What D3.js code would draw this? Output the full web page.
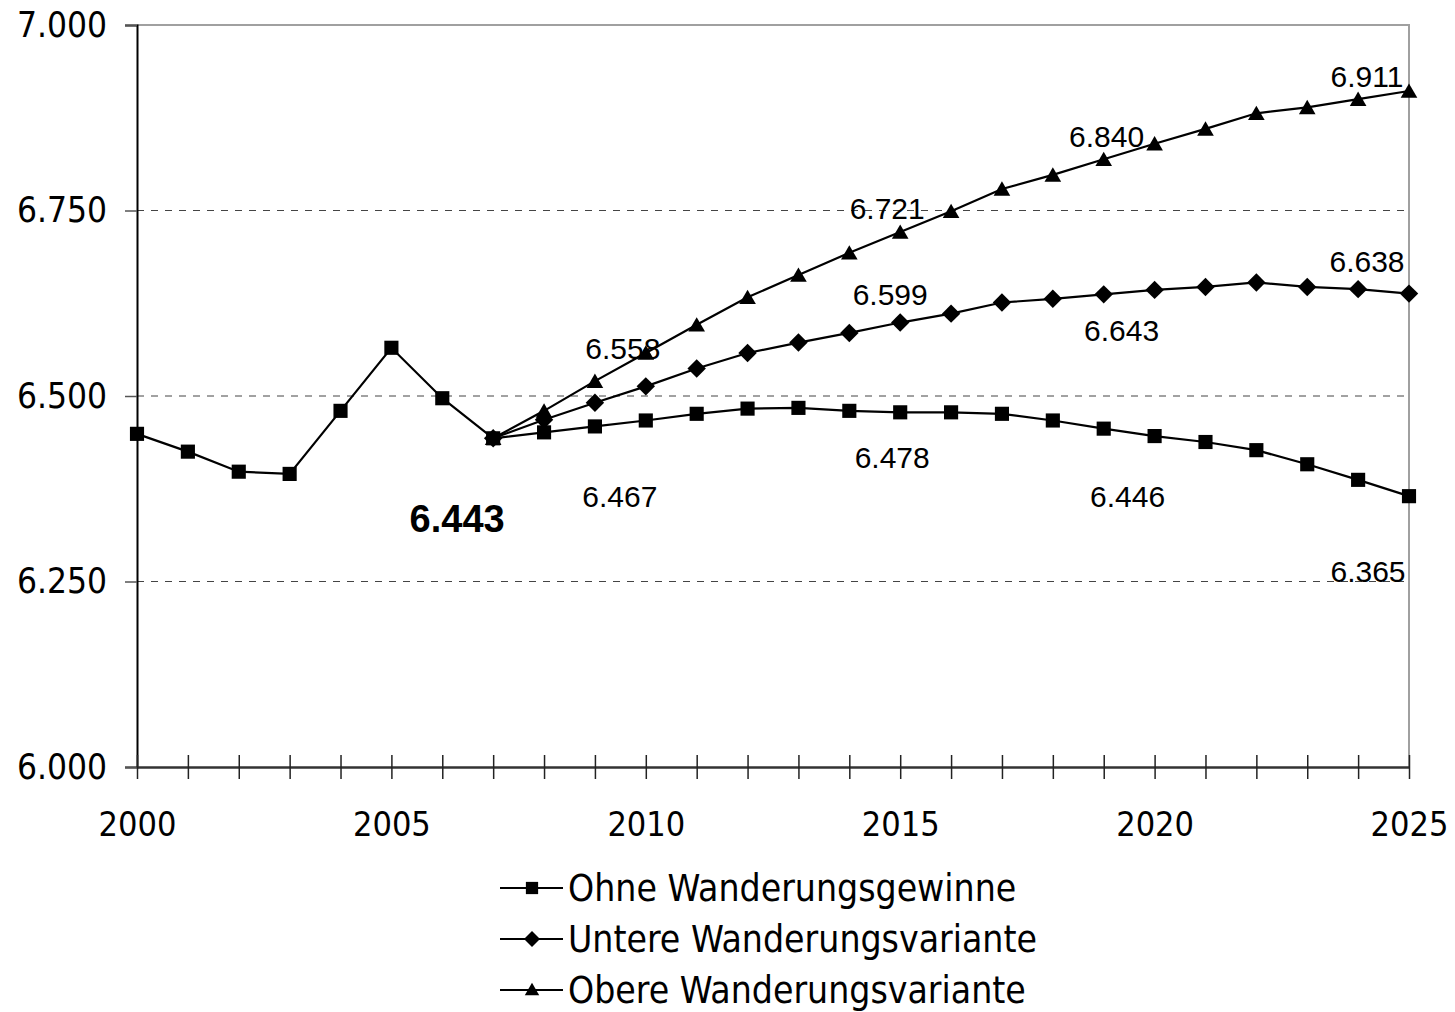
<!DOCTYPE html>
<html>
<head>
<meta charset="utf-8">
<script src="https://cdn.jsdelivr.net/npm/d3@7"></script>
<style>
  body { margin: 0; background: #fff; }
  svg { display: block; }
</style>
</head>
<body>
<div id="chart"></div>
<script>
// data (Tsd. Einwohner)
var years = d3.range(2000, 2026);
var ohneYears = d3.range(2000, 2026);
var ohne = [6.449, 6.425, 6.398, 6.395, 6.480, 6.565, 6.497, 6.443, 6.451, 6.459,
            6.467, 6.476, 6.483, 6.484, 6.480, 6.478, 6.478, 6.476, 6.467, 6.456,
            6.446, 6.438, 6.427, 6.408, 6.387, 6.365];
var variantYears = d3.range(2007, 2026);
var untere = [6.443, 6.468, 6.491, 6.513, 6.537, 6.558, 6.572, 6.585, 6.599, 6.611,
              6.626, 6.631, 6.637, 6.643, 6.647, 6.653, 6.647, 6.644, 6.638];
var obere = [6.443, 6.480, 6.520, 6.558, 6.596, 6.633, 6.663, 6.693, 6.721, 6.749,
             6.779, 6.798, 6.819, 6.840, 6.860, 6.881, 6.889, 6.900, 6.911];
var yTicks = [6.000, 6.250, 6.500, 6.750, 7.000];
var xTickLabels = [2000, 2005, 2010, 2015, 2020, 2025];
var seriesNames = ["Ohne Wanderungsgewinne", "Untere Wanderungsvariante", "Obere Wanderungsvariante"];
// which points carry a value label
var labelled = [
    { s: 0, year: 2007, bold: true },
    { s: 0, year: 2010 }, { s: 0, year: 2015 }, { s: 0, year: 2020 }, { s: 0, year: 2025 },
    { s: 1, year: 2015 }, { s: 1, year: 2020 }, { s: 1, year: 2025 },
    { s: 2, year: 2010 }, { s: 2, year: 2015 }, { s: 2, year: 2020 }, { s: 2, year: 2025 }
];

// diamond = square turned by 45 degrees
var series = [
    { name: seriesNames[0], years: ohneYears, values: ohne, symbol: d3.symbolSquare, size: 200, rotate: 0 },
    { name: seriesNames[1], years: variantYears, values: untere, symbol: d3.symbolSquare, size: 170, rotate: 45 },
    { name: seriesNames[2], years: variantYears, values: obere, symbol: d3.symbolTriangle, size: 120, rotate: 0 }
];

var width = 1455, height = 1012;
var margin = { top: 25, right: 46, bottom: 245, left: 137 };
var axisFont = "'DejaVu Sans Condensed', 'DejaVu Sans', sans-serif";
var labelFont = "'Liberation Sans', Arial, sans-serif";

var svg = d3.select('#chart').append('svg')
    .attr('width', width)
    .attr('height', height);

var x = d3.scaleLinear().domain([2000, 2025]).range([margin.left, width - margin.right]);
var y = d3.scaleLinear().domain([6, 7]).range([height - margin.bottom, margin.top]);

// gridlines (dashed)
svg.append('g').selectAll('line')
    .data(yTicks.filter(function(d) { return d > 6 && d < 7; }))
    .enter().append('line')
    .attr('x1', x(2000)).attr('x2', x(2025))
    .attr('y1', function(d) { return y(d); })
    .attr('y2', function(d) { return y(d); })
    .attr('stroke', '#444')
    .attr('stroke-width', 1)
    .attr('stroke-dasharray', '7,7');

// plot frame top/right in grey
svg.append('path')
    .attr('d', 'M' + x(2000) + ',' + y(7) + 'H' + x(2025) + 'V' + y(6))
    .attr('fill', 'none')
    .attr('stroke', '#a0a0a0')
    .attr('stroke-width', 2);

// y axis
var yAxis = d3.axisLeft(y)
    .tickValues(yTicks)
    .tickSize(12)
    .tickPadding(18)
    .tickFormat(function(d) { return d3.format('.3f')(d); });
var gy = svg.append('g')
    .attr('transform', 'translate(' + x(2000) + ',0)')
    .call(yAxis);
gy.select('.domain').attr('stroke', '#000').attr('stroke-width', 2);
gy.selectAll('.tick line').attr('stroke', '#555').attr('stroke-width', 1.5);
gy.selectAll('text')
    .style('font-family', axisFont)
    .style('font-size', '35px')
    .attr('fill', '#000');

// x axis, ticks every year crossing the axis
var xAxis = d3.axisBottom(x)
    .tickValues(years)
    .tickSize(12)
    .tickSizeOuter(0)
    .tickPadding(18)
    .tickFormat(function(d) { return xTickLabels.indexOf(d) >= 0 ? d : ''; });
var gx = svg.append('g')
    .attr('transform', 'translate(0,' + y(6) + ')')
    .call(xAxis);
gx.select('.domain').attr('stroke', '#333').attr('stroke-width', 2.5);
gx.selectAll('.tick line')
    .attr('y1', -12)
    .attr('stroke', '#222')
    .attr('stroke-width', 1.5);
gx.selectAll('text')
    .attr('dy', '1.15em')
    .style('font-family', axisFont)
    .style('font-size', '34px')
    .attr('fill', '#000');

// lines
var line = d3.line()
    .x(function(d) { return x(d.year); })
    .y(function(d) { return y(d.value); });

series.forEach(function(s) {
    s.points = s.years.map(function(yr, i) { return { year: yr, value: s.values[i] }; });
});

svg.append('g').selectAll('path')
    .data(series.slice().reverse())
    .enter().append('path')
    .attr('d', function(s) { return line(s.points); })
    .attr('fill', 'none')
    .attr('stroke', '#000')
    .attr('stroke-width', 2.2);

// markers
series.slice().reverse().forEach(function(s) {
    var sym = d3.symbol().type(s.symbol).size(s.size);
    svg.append('g').selectAll('path')
        .data(s.points)
        .enter().append('path')
        .attr('transform', function(d) {
            var dy = s.symbol === d3.symbolTriangle ? 2 : 0;
            return 'translate(' + x(d.year) + ',' + (y(d.value) + dy) + ') rotate(' + s.rotate + ')';
        })
        .attr('d', sym)
        .attr('fill', '#000');
});

// value labels, offsets relative to the point
var labelOffset = {
    '0-2007': [-36, 94], '0-2010': [-26, 87], '0-2015': [-8, 56], '0-2020': [-27, 71], '0-2025': [-41, 86],
    '1-2015': [-10, -18], '1-2020': [-33, 51], '1-2025': [-42, -22],
    '2-2010': [-23, 6], '2-2015': [-13, -13], '2-2020': [-48, 3], '2-2025': [-42, -4]
};
svg.append('g').selectAll('text')
    .data(labelled)
    .enter().append('text')
    .attr('x', function(d) { return x(d.year) + labelOffset[d.s + '-' + d.year][0]; })
    .attr('y', function(d) {
        var s = series[d.s];
        return y(s.values[s.years.indexOf(d.year)]) + labelOffset[d.s + '-' + d.year][1];
    })
    .attr('text-anchor', 'middle')
    .style('font-family', labelFont)
    .style('font-size', function(d) { return d.bold ? '38px' : '30px'; })
    .style('font-weight', function(d) { return d.bold ? 'bold' : 'normal'; })
    .attr('fill', '#000')
    .text(function(d) {
        var s = series[d.s];
        return d3.format('.3f')(s.values[s.years.indexOf(d.year)]);
    });

// legend
var legend = svg.append('g').attr('transform', 'translate(500,888)');
var rows = legend.selectAll('g')
    .data(series)
    .enter().append('g')
    .attr('transform', function(d, i) { return 'translate(0,' + (i * 51) + ')'; });
rows.append('line')
    .attr('x1', 0).attr('x2', 63)
    .attr('stroke', '#000').attr('stroke-width', 2);
rows.append('path')
    .attr('transform', function(d) {
        return 'translate(32,' + (d.symbol === d3.symbolTriangle ? 1 : 0) + ') rotate(' + d.rotate + ')';
    })
    .attr('d', function(d) { return d3.symbol().type(d.symbol).size(d.size * 0.75)(); })
    .attr('fill', '#000');
rows.append('text')
    .attr('x', 68)
    .attr('dy', '0.36em')
    .style('font-family', axisFont)
    .style('font-size', '37px')
    .attr('fill', '#000')
    .text(function(d) { return d.name; });
</script>
</body>
</html>
